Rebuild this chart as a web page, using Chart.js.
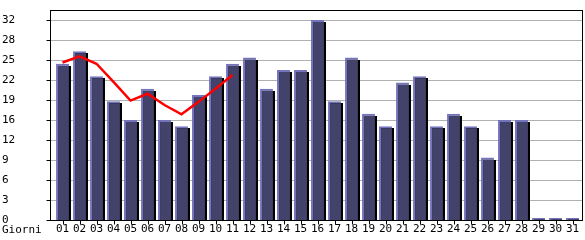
<!DOCTYPE html>
<html>
<head>
<meta charset="utf-8">
<script src="https://cdn.jsdelivr.net/npm/chart.js@4.4.1/dist/chart.umd.min.js"></script>
<style>
  html, body { margin: 0; padding: 0; background: #fff; }
  #chart { display: block; }
</style>
</head>
<body>
<canvas id="chart" width="585" height="240"></canvas>
<script>
// days of the month
const days = ['01','02','03','04','05','06','07','08','09','10','11','12','13','14','15','16',
              '17','18','19','20','21','22','23','24','25','26','27','28','29','30','31'];
// daily visits (bars)
const visits = [25, 27, 23, 19, 16, 21, 16, 15, 20, 23, 25, 26, 21, 24, 24, 32,
                19, 26, 17, 15, 22, 23, 15, 17, 15, 10, 16, 16, 0, 0, 0];
// red trend line, only for the first days
const trend = [25.2, 26.2, 25.0, 22.1, 19.1, 20.2, 18.4, 16.9, 18.9, 21.0, 23.2];
// y ticks (values and the labels shown for them)
const yTickValues = [0, 3.2, 6.4, 9.6, 12.8, 16, 19.2, 22.4, 25.6, 28.8, 32];
const yTickLabels = ['0', '3', '6', '9', '12', '16', '19', '22', '25', '28', '32'];
const xTitle = 'Giorni';

const FONT = { family: 'DejaVu Sans Mono', size: 11 };

// black drop shadow on the right of every bar
const barShadow = {
    id: 'barShadow',
    beforeDatasetDraw(chart, args) {
        if (args.index !== 0) return;
        const ctx = chart.ctx;
        ctx.save();
        ctx.fillStyle = '#000';
        args.meta.data.forEach(function (bar) {
            const p = bar.getProps(['x', 'y', 'base', 'width'], true);
            const h = p.base - p.y;
            if (h < 4) return;
            ctx.fillRect(Math.round(p.x - p.width / 2) + 2, Math.round(p.y) + 2, Math.round(p.width), Math.round(h) - 2);
        });
        ctx.restore();
    }
};

// frame, grid lines, tick marks and axis title
const frame = {
    id: 'frame',
    beforeDatasetsDraw(chart) {
        const ctx = chart.ctx, y = chart.scales.y, area = chart.chartArea;
        ctx.save();
        ctx.strokeStyle = '#b0b0b0';
        ctx.lineWidth = 1;
        y.ticks.forEach(function (t) {
            if (t.value === 0) return;
            const py = Math.round(y.getPixelForValue(t.value)) + 0.5;
            ctx.beginPath();
            ctx.moveTo(area.left - 4, py);
            ctx.lineTo(area.right + 2, py);
            ctx.stroke();
        });
        ctx.restore();
    },
    afterDatasetsDraw(chart) {
        const ctx = chart.ctx, x = chart.scales.x, y = chart.scales.y, area = chart.chartArea;
        const left = area.left - 4 + 0.5, right = area.right + 2 - 0.5;
        const top = area.top + 0.5, bottom = area.bottom + 0.5;
        ctx.save();
        ctx.strokeStyle = '#000';
        ctx.lineWidth = 1;
        ctx.strokeRect(left, top, right - left, bottom - top);
        ctx.beginPath();
        y.ticks.forEach(function (t) {
            const py = Math.round(y.getPixelForValue(t.value)) + 0.5;
            ctx.moveTo(left - 4, py);
            ctx.lineTo(left, py);
        });
        days.forEach(function (d, i) {
            const px = Math.round(x.getPixelForValue(i)) + 0.5;
            ctx.moveTo(px, bottom);
            ctx.lineTo(px, bottom + 4);
        });
        ctx.stroke();
        ctx.fillStyle = '#000';
        ctx.font = FONT.size + 'px ' + FONT.family;
        ctx.textBaseline = 'middle';
        ctx.textAlign = 'left';
        ctx.fillText(xTitle, 2, 230);
        ctx.restore();
    }
};

new Chart(document.getElementById('chart'), {
    type: 'bar',
    data: {
        labels: days,
        datasets: [{
            data: visits,
            backgroundColor: '#42426a',
            borderColor: '#7474bc',
            borderWidth: { left: 2, top: 2, right: 0, bottom: 0 },
            borderSkipped: false,
            minBarLength: 2,
            barPercentage: 0.76,
            categoryPercentage: 1,
            order: 2
        }, {
            type: 'line',
            data: trend,
            borderColor: '#ff0000',
            borderWidth: 2.5,
            pointRadius: 0,
            tension: 0,
            fill: false,
            order: 1
        }]
    },
    options: {
        responsive: false,
        animation: false,
        layout: { padding: { left: 2, top: 10, right: 4, bottom: 0 } },
        plugins: { legend: { display: false }, tooltip: { enabled: false } },
        scales: {
            x: {
                offset: true,
                grid: { display: false, drawTicks: false },
                border: { display: false },
                ticks: { font: FONT, color: '#000', padding: 3, maxRotation: 0, autoSkip: false },
                afterFit(scale) { scale.height = 20; }
            },
            y: {
                min: 0,
                max: 33.6,
                grid: { display: false, drawTicks: false },
                border: { display: false },
                afterBuildTicks(scale) {
                    scale.ticks = yTickValues.map(function (v) { return { value: v }; });
                },
                ticks: {
                    font: FONT,
                    color: '#000',
                    crossAlign: 'far',
                    callback: function (value, index) { return yTickLabels[index]; }
                },
                afterFit(scale) { scale.width = 52; }
            }
        }
    },
    plugins: [barShadow, frame]
});
</script>
</body>
</html>
